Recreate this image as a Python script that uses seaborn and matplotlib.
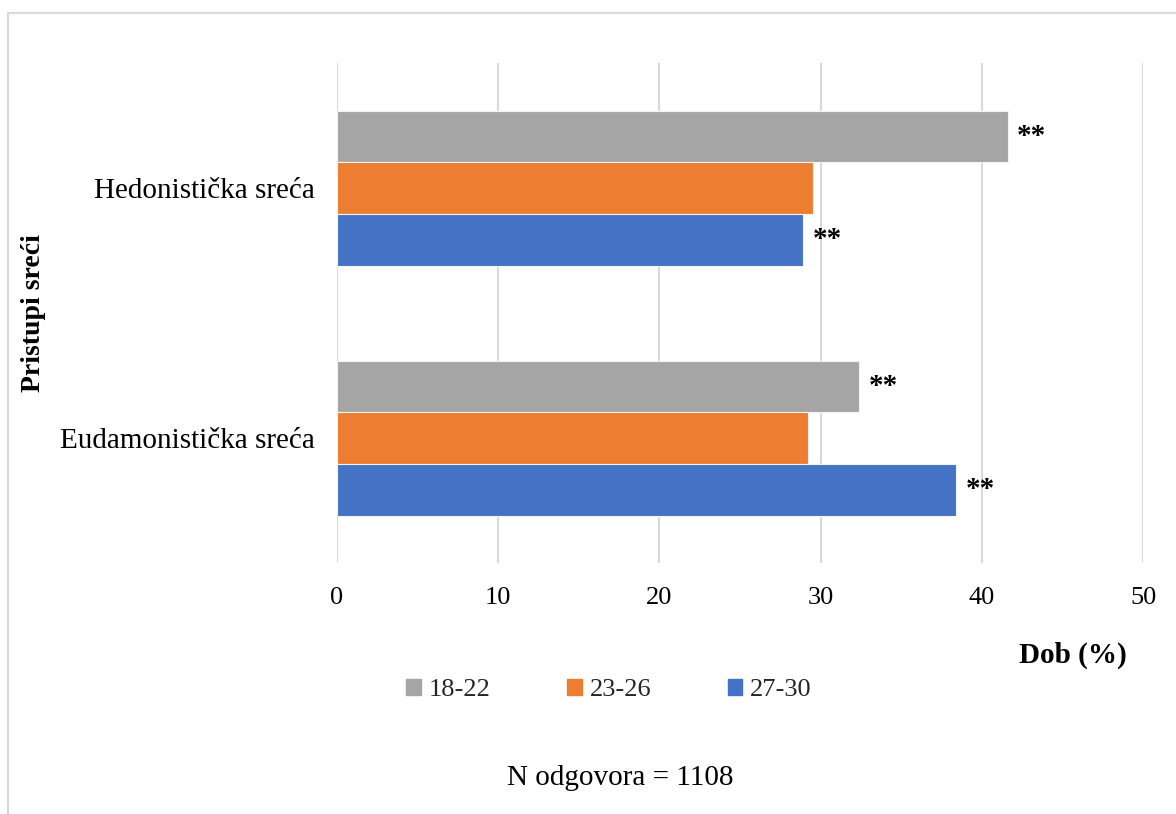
import matplotlib
matplotlib.use("Agg")
import matplotlib.pyplot as plt
from matplotlib.lines import Line2D
import pandas as pd
import seaborn as sns

# Data: share of each age group (%) per approach to happiness
categories = ["Hedonistička sreća", "Eudamonistička sreća"]
age_groups = ["18-22", "23-26", "27-30"]
values_18_22 = [41.6, 32.4]
values_23_26 = [29.5, 29.2]
values_27_30 = [28.9, 38.4]
# significance markers per (category, age group)
marks_18_22 = ["**", "**"]
marks_23_26 = ["", ""]
marks_27_30 = ["**", "**"]

x_ticks = [0, 10, 20, 30, 40, 50]
x_label = "Dob (%)"
y_label = "Pristupi sreći"
note = "N odgovora = 1108"

colors = ["#A5A5A5", "#ED7D31", "#4472C4"]

series = [values_18_22, values_23_26, values_27_30]
marks = [marks_18_22, marks_23_26, marks_27_30]
df = pd.DataFrame(
    [(c, g, series[j][i], marks[j][i])
     for i, c in enumerate(categories)
     for j, g in enumerate(age_groups)],
    columns=["pristup", "dob", "postotak", "oznaka"],
)

sns.set_theme(style="white")
plt.rcParams["font.family"] = ["Liberation Serif", "DejaVu Serif"]

fig = plt.figure(figsize=(11.76, 8.14), dpi=100)
ax = fig.add_axes([337 / 1176, 1 - 563 / 814, (1143 - 337) / 1176, (563 - 63) / 814])

sns.barplot(
    data=df, y="pristup", x="postotak", hue="dob",
    order=categories, hue_order=age_groups, palette=colors, saturation=1,
    orient="h", width=0.62, dodge=True, gap=0,
    edgecolor="#F2F2F2", linewidth=0.8, legend=False, ax=ax,
    zorder=3,
)

# significance stars next to the bar ends
for container, grp in zip(ax.containers, age_groups):
    sub = df[df["dob"] == grp].set_index("pristup").loc[categories]
    for bar, (_, row) in zip(container, sub.iterrows()):
        if row["oznaka"]:
            ax.text(bar.get_width() + 0.6, bar.get_y() + bar.get_height() / 2,
                    row["oznaka"], ha="left", va="center",
                    fontsize=21, fontweight="bold", color="black")

ax.set_xlim(0, 50)
ax.set_ylim(1.5, -0.5)
ax.set_xticks(x_ticks)
ax.set_xticklabels([str(t) for t in x_ticks], fontsize=19)
ax.tick_params(axis="x", length=0, pad=17)
ax.tick_params(axis="y", length=0, pad=16, labelsize=21)
for lab in ax.get_yticklabels():
    lab.set_color("black")
for lab in ax.get_xticklabels():
    lab.set_color("black")
ax.grid(axis="x", color="#D9D9D9", linewidth=1.5, zorder=0)
ax.grid(axis="y", visible=False)
for s in ax.spines.values():
    s.set_visible(False)
ax.set_xlabel("")
ax.set_ylabel("")

fig.text(1127 / 1176, 1 - 655 / 814, x_label, ha="right", va="center",
         fontsize=21, fontweight="bold", color="black")
fig.text(34 / 1176, 1 - 313 / 814, y_label, ha="center", va="center",
         rotation=90, fontsize=20, fontweight="bold", color="black")
fig.text(620 / 1176, 1 - 778 / 814, note, ha="center", va="center",
         fontsize=21, color="black")

handles = [plt.Rectangle((0, 0), 1, 1, color=c) for c in colors]
fig.legend(handles, age_groups, loc="center", ncol=3,
           bbox_to_anchor=(609 / 1176, 1 - 690 / 814),
           frameon=False, fontsize=19, handlelength=0.55, handleheight=0.55,
           handletextpad=0.3, columnspacing=2.9, borderaxespad=0)

# light frame along the top and left edges
fig.add_artist(Line2D([8 / 1176, 1], [1 - 13 / 814, 1 - 13 / 814],
                      transform=fig.transFigure, color="#D9D9D9", linewidth=1.5))
fig.add_artist(Line2D([8 / 1176, 8 / 1176], [0, 1 - 13 / 814],
                      transform=fig.transFigure, color="#D9D9D9", linewidth=1.5))

fig.savefig("out.png", dpi=100)
